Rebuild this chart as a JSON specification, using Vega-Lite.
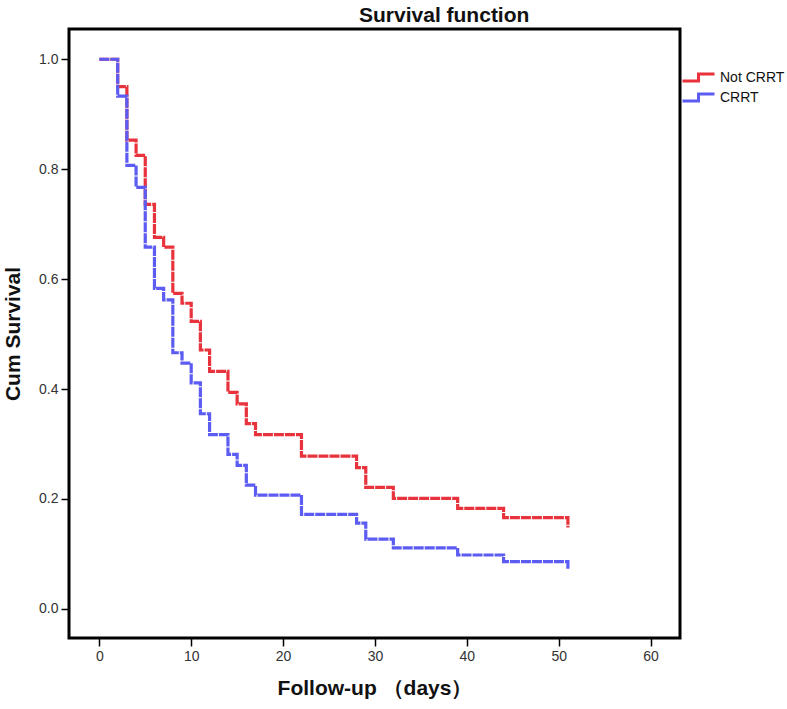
{
  "$schema": "https://vega.github.io/schema/vega-lite/v6.json",
  "width": 611,
  "height": 609,
  "autosize": "none",
  "padding": {"left": 69, "top": 29, "right": 107, "bottom": 71},
  "background": "white",
  "title": {
    "text": "Survival function",
    "anchor": "start",
    "frame": "group",
    "dx": 290,
    "offset": 3,
    "fontSize": 21,
    "fontWeight": "bold",
    "font": "Liberation Sans",
    "color": "#111"
  },
  "config": {
    "view": {"stroke": "black", "strokeWidth": 3},
    "font": "Liberation Sans"
  },
  "data": {
    "values": [
      {"group": "Not CRRT", "i": 0, "day": 0, "surv": 1.0},
      {"group": "Not CRRT", "i": 1, "day": 2, "surv": 0.95},
      {"group": "Not CRRT", "i": 2, "day": 3, "surv": 0.853},
      {"group": "Not CRRT", "i": 3, "day": 4, "surv": 0.825},
      {"group": "Not CRRT", "i": 4, "day": 5, "surv": 0.736},
      {"group": "Not CRRT", "i": 5, "day": 6, "surv": 0.676},
      {"group": "Not CRRT", "i": 6, "day": 7, "surv": 0.658},
      {"group": "Not CRRT", "i": 7, "day": 8, "surv": 0.574},
      {"group": "Not CRRT", "i": 8, "day": 9, "surv": 0.556},
      {"group": "Not CRRT", "i": 9, "day": 10, "surv": 0.523},
      {"group": "Not CRRT", "i": 10, "day": 11, "surv": 0.471},
      {"group": "Not CRRT", "i": 11, "day": 12, "surv": 0.432},
      {"group": "Not CRRT", "i": 12, "day": 14, "surv": 0.394},
      {"group": "Not CRRT", "i": 13, "day": 15, "surv": 0.373},
      {"group": "Not CRRT", "i": 14, "day": 16, "surv": 0.337},
      {"group": "Not CRRT", "i": 15, "day": 17, "surv": 0.317},
      {"group": "Not CRRT", "i": 16, "day": 22, "surv": 0.278},
      {"group": "Not CRRT", "i": 17, "day": 28, "surv": 0.257},
      {"group": "Not CRRT", "i": 18, "day": 29, "surv": 0.221},
      {"group": "Not CRRT", "i": 19, "day": 32, "surv": 0.201},
      {"group": "Not CRRT", "i": 20, "day": 39, "surv": 0.183},
      {"group": "Not CRRT", "i": 21, "day": 44, "surv": 0.166},
      {"group": "Not CRRT", "i": 22, "day": 51, "surv": 0.166},
      {"group": "Not CRRT", "i": 23, "day": 51, "surv": 0.148},
      {"group": "CRRT", "i": 0, "day": 0, "surv": 1.0},
      {"group": "CRRT", "i": 1, "day": 2, "surv": 0.933},
      {"group": "CRRT", "i": 2, "day": 3, "surv": 0.807},
      {"group": "CRRT", "i": 3, "day": 4, "surv": 0.767},
      {"group": "CRRT", "i": 4, "day": 5, "surv": 0.658},
      {"group": "CRRT", "i": 5, "day": 6, "surv": 0.583},
      {"group": "CRRT", "i": 6, "day": 7, "surv": 0.562},
      {"group": "CRRT", "i": 7, "day": 8, "surv": 0.466},
      {"group": "CRRT", "i": 8, "day": 9, "surv": 0.447},
      {"group": "CRRT", "i": 9, "day": 10, "surv": 0.411},
      {"group": "CRRT", "i": 10, "day": 11, "surv": 0.355},
      {"group": "CRRT", "i": 11, "day": 12, "surv": 0.317},
      {"group": "CRRT", "i": 12, "day": 14, "surv": 0.281},
      {"group": "CRRT", "i": 13, "day": 15, "surv": 0.261},
      {"group": "CRRT", "i": 14, "day": 16, "surv": 0.225},
      {"group": "CRRT", "i": 15, "day": 17, "surv": 0.207},
      {"group": "CRRT", "i": 16, "day": 22, "surv": 0.172},
      {"group": "CRRT", "i": 17, "day": 28, "surv": 0.156},
      {"group": "CRRT", "i": 18, "day": 29, "surv": 0.127},
      {"group": "CRRT", "i": 19, "day": 32, "surv": 0.111},
      {"group": "CRRT", "i": 20, "day": 39, "surv": 0.098},
      {"group": "CRRT", "i": 21, "day": 44, "surv": 0.086},
      {"group": "CRRT", "i": 22, "day": 51, "surv": 0.086},
      {"group": "CRRT", "i": 23, "day": 51, "surv": 0.073}
    ]
  },
  "mark": {"type": "line", "interpolate": "step-after", "strokeWidth": 3.2, "strokeDash": [10, 1], "clip": true},
  "encoding": {
    "x": {
      "field": "day",
      "type": "quantitative",
      "scale": {"domain": [-3.3, 63.2], "nice": false, "zero": false},
      "axis": {
        "values": [0, 10, 20, 30, 40, 50, 60],
        "title": "Follow-up （days）",
        "titleFontSize": 21,
        "titleFontWeight": "bold",
        "titleColor": "#111",
        "titlePadding": 14,
        "domain": false,
        "grid": false,
        "tickColor": "black",
        "tickWidth": 1.5,
        "tickSize": 8,
        "labelFontSize": 14,
        "labelColor": "#333",
        "labelPadding": 3,
        "labelFont": "Liberation Sans"
      }
    },
    "y": {
      "field": "surv",
      "type": "quantitative",
      "scale": {"domain": [-0.053, 1.055], "nice": false, "zero": false},
      "axis": {
        "values": [0, 0.2, 0.4, 0.6, 0.8, 1.0],
        "format": ".1f",
        "title": "Cum Survival",
        "titleFontSize": 21,
        "titleFontWeight": "bold",
        "titleColor": "#111",
        "titlePadding": 15,
        "domain": false,
        "grid": false,
        "tickColor": "black",
        "tickWidth": 1.5,
        "tickSize": 8,
        "labelFontSize": 14,
        "labelColor": "#333",
        "labelPadding": 3,
        "labelFont": "Liberation Sans"
      }
    },
    "color": {
      "field": "group",
      "type": "nominal",
      "scale": {"domain": ["Not CRRT", "CRRT"], "range": ["#e8333c", "#5c5cf2"]},
      "legend": {
        "title": null,
        "orient": "none",
        "legendX": 620,
        "legendY": 39,
        "padding": 0,
        "symbolType": "M-2,0.45H0V-0.45H2",
        "symbolSize": 256,
        "symbolStrokeWidth": 3,
        "symbolFillColor": "transparent",
        "labelFontSize": 14,
        "labelColor": "#111",
        "labelOffset": 12,
        "rowPadding": -1
      }
    },
    "order": {"field": "i", "type": "quantitative"}
  }
}
